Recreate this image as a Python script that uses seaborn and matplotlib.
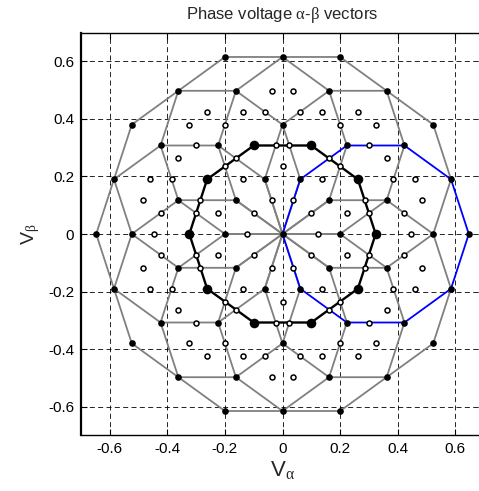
import itertools

import numpy as np
import pandas as pd
import matplotlib
matplotlib.use("Agg")
import matplotlib.pyplot as plt
import seaborn as sns

# Five-phase bridge: phase displacement of the legs and two-level switch states
phase_angles_deg = [0, 72, 144, 216, 288]
switch_levels = [0, 1]
vdc = 1.0
clarke_gain = 2 / 5
highlight_copy = 0          # sub-hexagon around the first large vector, in blue
axis_limits = [-0.7, 0.7]
tick_values = [-0.6, -0.4, -0.2, 0, 0.2, 0.4, 0.6]
tick_labels = ["-0.6", "-0.4", "-0.2", "0", "0.2", "0.4", "0.6"]

# Two-level alpha-beta space vectors (zero, small, medium, large)
rot = np.exp(1j * np.deg2rad(phase_angles_deg))
states = np.array(list(itertools.product(switch_levels, repeat=5)), dtype=float)
two_level = np.unique(np.round(clarke_gain * vdc * states @ rot, 9))
mag = np.abs(two_level)
large = two_level[mag > 0.6]
large = large[np.argsort(np.mod(np.angle(large), 2 * np.pi))]

# Each large vector carries a half-scale copy of the two-level diagram
point_rows, line_rows = [], []
for i, L in enumerate(large):
    for v in two_level:
        p = (L + v) / 2
        if abs(v) < 1e-9:
            kind = 2
        elif abs(v) > 0.6:
            kind = 1
        else:
            kind = 0
        point_rows.append({"x": p.real, "y": p.imag, "kind": kind})
    ring = list(large) + [large[0]]
    for k, Lk in enumerate(ring):
        p = (L + Lk) / 2
        line_rows.append({"copy": i, "seq": k, "x": p.real, "y": p.imag})

points = pd.DataFrame(point_rows)
points["kx"] = points["x"].round(6)
points["ky"] = points["y"].round(6)
points = points.sort_values("kind").drop_duplicates(["kx", "ky"], keep="last")

lines = pd.DataFrame(line_rows)
hub = pd.DataFrame({"x": np.append(large.real, large[0].real) / 2,
                    "y": np.append(large.imag, large[0].imag) / 2})

sns.set_style("ticks")
plt.rcParams["font.family"] = ["Liberation Sans", "DejaVu Sans"]
# Greek letters in upright serif, Latin text in sans
plt.rcParams["mathtext.fontset"] = "custom"
plt.rcParams["mathtext.rm"] = "Liberation Sans"
plt.rcParams["mathtext.it"] = "Liberation Serif"
plt.rcParams["mathtext.bf"] = "Liberation Sans:bold"

fig = plt.figure(figsize=(4.79, 4.91), dpi=100)
ax = fig.add_axes([81 / 479, (491 - 435.3) / 491, 403 / 479, 402.6 / 491])
ax.set_xlim(axis_limits)
ax.set_ylim(axis_limits)
ax.set_axisbelow(True)
ax.grid(True, color="black", linestyle=(0, (6, 4)), linewidth=0.6)

sns.lineplot(data=lines[lines["copy"] != highlight_copy], x="x", y="y",
             units="copy", estimator=None, sort=False, color="#808080",
             linewidth=1.3, legend=False, ax=ax)
sns.lineplot(data=hub, x="x", y="y", estimator=None, sort=False,
             color="black", linewidth=1.7, legend=False, ax=ax)
sns.lineplot(data=lines[lines["copy"] == highlight_copy], x="x", y="y",
             estimator=None, sort=False, color="#0000ff",
             linewidth=1.3, legend=False, ax=ax)

sns.scatterplot(data=points[points["kind"] == 0], x="x", y="y", marker="o",
                s=13, facecolor="white", edgecolor="black", linewidth=1.1,
                zorder=3, legend=False, ax=ax)
sns.scatterplot(data=points[points["kind"] == 1], x="x", y="y", marker="o",
                s=23, color="black", linewidth=0, zorder=4, legend=False, ax=ax)
sns.scatterplot(data=points[points["kind"] == 2], x="x", y="y", marker="o",
                s=48, color="black", linewidth=0, zorder=5, legend=False, ax=ax)

ax.set_xticks(tick_values)
ax.set_xticklabels(tick_labels)
ax.set_yticks(tick_values)
ax.set_yticklabels(tick_labels)
ax.tick_params(direction="in", length=4, width=0.8, top=True, right=True,
               labelsize=11, colors="black", pad=5)
for s in ax.spines.values():
    s.set_linewidth(1.0)
    s.set_color("black")
ax.spines["left"].set_linewidth(1.6)

ax.set_title(r"Phase voltage $\alpha$-$\beta$ vectors", fontsize=12, pad=10)
ax.set_xlabel(r"V${}_{\alpha}$", fontsize=16, labelpad=2)
ax.set_ylabel(r"V${}_{\beta}$", fontsize=14, labelpad=4)

fig.savefig("out.png", dpi=100)
